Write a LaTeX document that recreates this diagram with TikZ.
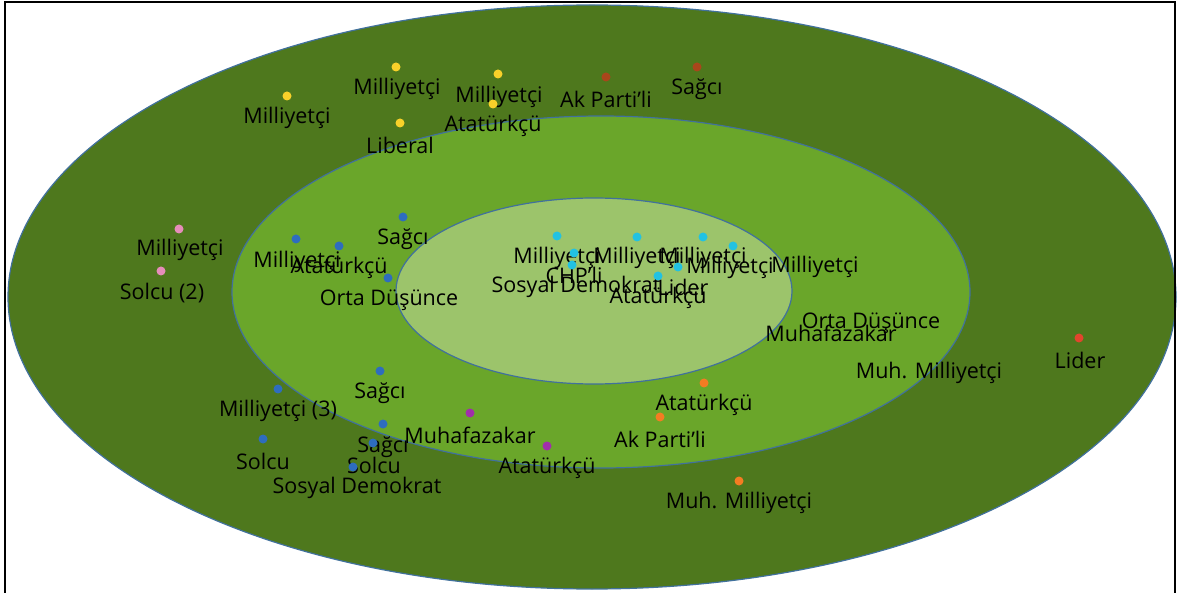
\documentclass[tikz,border=0pt]{standalone}
\usepackage{fontspec}
\setmainfont{Open Sans}
\begin{document}
\begin{tikzpicture}[x=1pt,y=-1pt,
  ring/.style={draw=ringline, line width=1.2pt},
  pt/.style={circle, inner sep=0pt, minimum size=9pt},
  lab/.style={inner sep=0pt, font=\fontsize{21.5}{24}\selectfont, text=black},
  cy/.style={pt, fill=dotcyan}, yl/.style={pt, fill=dotyellow},
  br/.style={pt, fill=dotbrown}, pk/.style={pt, fill=dotpink},
  bl/.style={pt, fill=dotblue}, pu/.style={pt, fill=dotpurple},
  og/.style={pt, fill=dotorange}, rd/.style={pt, fill=dotred}]
\definecolor{outerg}{HTML}{4E781D}
\definecolor{midg}{HTML}{6AA62A}
\definecolor{innerg}{HTML}{9CC46B}
\definecolor{ringline}{HTML}{41719C}
\definecolor{dotyellow}{HTML}{F8D12A}
\definecolor{dotbrown}{HTML}{A9461B}
\definecolor{dotpink}{HTML}{E68DBA}
\definecolor{dotblue}{HTML}{2E6DBE}
\definecolor{dotpurple}{HTML}{A12EAA}
\definecolor{dotorange}{HTML}{F47C22}
\definecolor{dotred}{HTML}{E2452D}
\definecolor{dotcyan}{HTML}{22C2E2}
\useasboundingbox (0,0) rectangle (1178,593);
\fill[white] (0,0) rectangle (1178,593);
% rings
\draw[ring, fill=outerg] (592,297) ellipse [x radius=584, y radius=292];
\draw[ring, fill=midg] (601,292) ellipse [x radius=369, y radius=176];
\draw[ring, fill=innerg] (594,291) ellipse [x radius=198, y radius=93];
% frame
\draw[line width=2pt] (5,600) -- (5,2) -- (1175,2) -- (1175,600);
% yellow
\node[yl] (y1) at (287,96) {};  \node[lab] (ly1) at (287,118) {Milliyetçi};
\node[yl] (y2) at (396,67) {};  \node[lab] (ly2) at (397,89) {Milliyetçi};
\node[yl] (y3) at (498,74) {};  \node[lab] (ly3) at (499,97) {Milliyetçi};
\node[yl] (y4) at (493,104) {}; \node[lab] (ly4) at (493,126) {Atatürkçü};
\node[yl] (y5) at (400,123) {}; \node[lab] (ly5) at (400,145) {Liberal};
% brown
\node[br] (b1) at (606,77) {};  \node[lab] (lb1) at (606,99) {Ak Parti'li};
\node[br] (b2) at (697,67) {};  \node[lab] (lb2) at (697,89) {Sağcı};
% pink
\node[pk] (p1) at (179,229) {}; \node[lab] (lp1) at (180,250) {Milliyetçi};
\node[pk] (p2) at (161,271) {}; \node[lab] (lp2) at (162,293) {Solcu (2)};
% blue
\node[bl] (u1) at (296,239) {}; \node[lab] (lu1) at (297,262) {Milliyetçi};
\node[bl] (u2) at (339,246) {}; \node[lab] (lu2) at (339,268) {Atatürkçü};
\node[bl] (u3) at (403,217) {}; \node[lab] (lu3) at (403,239) {Sağcı};
\node[bl] (u4) at (388,278) {}; \node[lab] (lu4) at (389,300) {Orta Düşünce};
\node[bl] (u5) at (380,371) {}; \node[lab] (lu5) at (380,393) {Sağcı};
\node[bl] (u6) at (278,389) {}; \node[lab] (lu6) at (278,411) {Milliyetçi (3)};
\node[bl] (u7) at (263,439) {}; \node[lab] (lu7) at (263,461) {Solcu};
\node[bl] (u8) at (383,424) {}; \node[lab] (lu8) at (383,447) {Sağcı};
\node[bl] (u9) at (373,443) {}; \node[lab] (lu9) at (374,465) {Solcu};
\node[bl] (u10) at (353,467) {};\node[lab] (lu10) at (357,488) {Sosyal Demokrat};
% purple
\node[pu] (v1) at (470,413) {}; \node[lab] (lv1) at (470,435) {Muhafazakar};
\node[pu] (v2) at (547,446) {}; \node[lab] (lv2) at (547,468) {Atatürkçü};
% orange
\node[og] (o1) at (704,383) {}; \node[lab] (lo1) at (704,405) {Atatürkçü};
\node[og] (o2) at (660,417) {}; \node[lab] (lo2) at (660,439) {Ak Parti'li};
\node[og] (o3) at (739,481) {}; \node[lab] (lo3) at (739,503) {Muh. Milliyetçi};
% red
\node[rd] (r1) at (1079,338) {};\node[lab] (lr1) at (1080,360) {Lider};
% right labels
\node[lab] (lx1) at (871,323) {Orta Düşünce};
\node[lab] (lx2) at (831,333) {Muhafazakar};
\node[lab] (lx3) at (929,373) {Muh. Milliyetçi};
% cyan
\node[cy] (c1) at (557,236) {}; \node[lab] (lc1) at (557,258) {Milliyetçi};
\node[cy] (c2) at (637,237) {}; \node[lab] (lc2) at (637,258) {Milliyetçi};
\node[cy] (c3) at (703,237) {}; \node[lab] (lc3) at (703,258) {Milliyetçi};
\node[cy] (c4) at (733,246) {}; \node[lab] (lc4) at (730,268) {Milliyetçi};
\node[lab] (lc9) at (815,267) {Milliyetçi};
\node[cy] (c5) at (574,253) {}; \node[lab] (lc5) at (574,275) {CHP'li};
\node[cy] (c6) at (572,265) {}; \node[lab] (lc6) at (576,287) {Sosyal Demokrat};
\node[cy] (c7) at (678,267) {}; \node[lab] (lc7) at (683,287) {Lider};
\node[cy] (c8) at (658,276) {}; \node[lab] (lc8) at (658,298) {Atatürkçü};
\end{tikzpicture}
\end{document}
